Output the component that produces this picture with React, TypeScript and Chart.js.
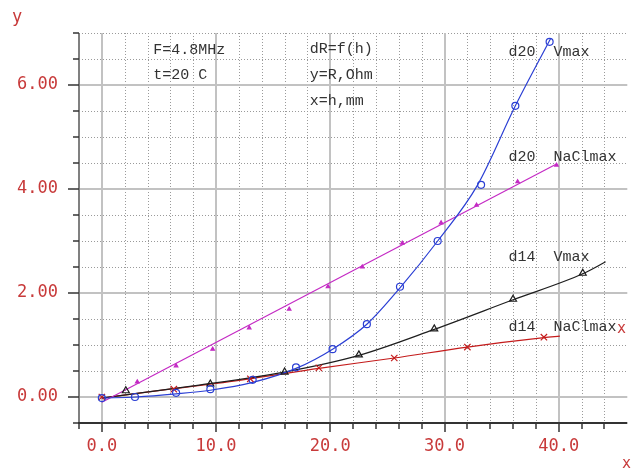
import React, { useEffect, useRef } from 'react';
import { Chart, registerables } from 'chart.js';

Chart.register(...registerables);

// ---- Data (x = h, mm ; y = R, Ohm) ----
const d20VmaxX = [0, 2.9, 6.5, 9.5, 13.2, 17.0, 20.2, 23.2, 26.1, 29.4, 33.2, 36.2, 39.2];
const d20VmaxY = [-0.02, 0.0, 0.08, 0.15, 0.33, 0.57, 0.92, 1.4, 2.12, 3.0, 4.08, 5.6, 6.83];
const d20VmaxFitX = [0, 3, 6.5, 9.5, 13.2, 17.0, 20.2, 23.2, 26.1, 29.4, 32.9, 36.2, 39.3];
const d20VmaxFitY = [-0.02, 0.0, 0.06, 0.13, 0.28, 0.55, 0.92, 1.4, 2.1, 3.0, 4.08, 5.6, 6.9];

const d20NaClX = [3.1, 6.5, 9.7, 12.9, 16.4, 19.8, 22.8, 26.3, 29.7, 32.8, 36.4, 39.8];
const d20NaClY = [0.29, 0.6, 0.92, 1.33, 1.69, 2.12, 2.5, 2.96, 3.35, 3.69, 4.14, 4.46];
const d20NaClFitX = [0, 39.8];
const d20NaClFitY = [-0.1, 4.48];

const d14VmaxX = [2.1, 9.5, 16.0, 22.5, 29.1, 36.0, 42.1];
const d14VmaxY = [0.12, 0.25, 0.48, 0.81, 1.31, 1.88, 2.38];
const d14VmaxFitX = [0, 8.2, 16.0, 22.5, 29.1, 36.0, 42.1, 44.1];
const d14VmaxFitY = [-0.02, 0.22, 0.48, 0.8, 1.3, 1.87, 2.37, 2.6];

const d14NaClX = [0, 6.3, 13.0, 19.0, 25.6, 32.0, 38.7];
const d14NaClY = [0, 0.15, 0.35, 0.56, 0.75, 0.96, 1.15];
const d14NaClFitX = [0, 6.3, 13.0, 19.0, 25.6, 32.0, 38.7, 40.1];
const d14NaClFitY = [-0.02, 0.16, 0.35, 0.55, 0.75, 0.96, 1.14, 1.17];

// ---- Axes ----
const xMin = -2;
const xMax = 46;
const yMin = -0.5;
const yMax = 7;
const xMajorTicks = [0, 10, 20, 30, 40];
const xTickLabels = ['0.0', '10.0', '20.0', '30.0', '40.0'];
const xMinorStep = 2;
const yMajorTicks = [0, 2, 4, 6];
const yTickLabels = ['0.00', '2.00', '4.00', '6.00'];
const yMinorStep = 0.5;

// ---- Annotations (text, data-x, data-y) ----
const noteTexts = ['F=4.8MHz', 't=20 C', 'dR=f(h)', 'y=R,Ohm', 'x=h,mm', 'd20  Vmax', 'd20  NaClmax', 'd14  Vmax', 'd14  NaClmax'];
const noteX = [4.5, 4.5, 18.2, 18.2, 18.2, 35.6, 35.6, 35.6, 35.6];
const noteY = [6.67, 6.2, 6.69, 6.19, 5.69, 6.63, 4.62, 2.69, 1.35];

const BLUE = '#2b3fd4';
const MAGENTA = '#c42ac4';
const BLACK = '#1e1e1e';
const RED = '#c41c1c';
const LABEL_RED = '#c83a3a';

const pts = (xs: number[], ys: number[]) => xs.map((x, i) => ({ x, y: ys[i] }));

const frange = (a: number, b: number, s: number) => {
  const out: number[] = [];
  const n = Math.round((b - a) / s);
  for (let i = 0; i <= n; i++) out.push(+(a + i * s).toFixed(6));
  return out;
};

const gridPlugin = {
  id: 'oldGrid',
  beforeDatasetsDraw(chart: any) {
    const { ctx, chartArea: a, scales } = chart;
    const xs = scales.x;
    const ys = scales.y;
    ctx.save();
    // minor dotted grid
    ctx.lineWidth = 1;
    ctx.strokeStyle = '#9a9a9a';
    ctx.setLineDash([1, 2]);
    for (const v of frange(xMin, xMax, xMinorStep)) {
      if (v === xMin || xMajorTicks.includes(v)) continue;
      const px = Math.round(xs.getPixelForValue(v)) + 0.5;
      if (px > a.right - 1) continue;
      ctx.beginPath();
      ctx.moveTo(px, a.top);
      ctx.lineTo(px, a.bottom);
      ctx.stroke();
    }
    for (const v of frange(yMin, yMax, yMinorStep)) {
      if (v === yMin || yMajorTicks.includes(v)) continue;
      const py = Math.round(ys.getPixelForValue(v)) + 0.5;
      ctx.beginPath();
      ctx.moveTo(a.left, py);
      ctx.lineTo(a.right, py);
      ctx.stroke();
    }
    // major solid grid
    ctx.setLineDash([]);
    ctx.strokeStyle = '#c2c2c2';
    ctx.lineWidth = 2;
    for (const v of xMajorTicks) {
      const px = Math.round(xs.getPixelForValue(v));
      ctx.beginPath();
      ctx.moveTo(px, a.top);
      ctx.lineTo(px, a.bottom);
      ctx.stroke();
    }
    for (const v of yMajorTicks) {
      const py = Math.round(ys.getPixelForValue(v));
      ctx.beginPath();
      ctx.moveTo(a.left, py);
      ctx.lineTo(a.right, py);
      ctx.stroke();
    }
    // axes
    ctx.strokeStyle = '#808080';
    ctx.lineWidth = 2;
    ctx.beginPath();
    ctx.moveTo(a.left, a.top);
    ctx.lineTo(a.left, a.bottom);
    ctx.stroke();
    ctx.strokeStyle = '#333';
    ctx.beginPath();
    ctx.moveTo(a.left - 1, a.bottom);
    ctx.lineTo(a.right, a.bottom);
    ctx.stroke();
    // ticks
    ctx.strokeStyle = '#333';
    ctx.lineWidth = 1.5;
    for (const v of frange(yMin, yMax, yMinorStep)) {
      const py = Math.round(ys.getPixelForValue(v));
      const len = yMajorTicks.includes(v) ? 11 : 6;
      ctx.beginPath();
      ctx.moveTo(a.left - len, py);
      ctx.lineTo(a.left, py);
      ctx.stroke();
    }
    for (const v of frange(xMin, xMax, xMinorStep)) {
      const px = Math.round(xs.getPixelForValue(v));
      if (px > a.right - 1) continue;
      const len = xMajorTicks.includes(v) ? 9 : 6;
      ctx.beginPath();
      ctx.moveTo(px, a.bottom);
      ctx.lineTo(px, a.bottom + len);
      ctx.stroke();
    }
    ctx.restore();
  },
  afterDraw(chart: any) {
    const { ctx, chartArea: a, scales } = chart;
    const xs = scales.x;
    const ys = scales.y;
    ctx.save();
    // tick labels
    ctx.fillStyle = LABEL_RED;
    ctx.font = '17px "DejaVu Sans Mono"';
    ctx.textBaseline = 'middle';
    ctx.textAlign = 'right';
    yMajorTicks.forEach((v, i) => {
      ctx.fillText(yTickLabels[i], a.left - 21, ys.getPixelForValue(v));
    });
    ctx.textAlign = 'center';
    xMajorTicks.forEach((v, i) => {
      ctx.fillText(xTickLabels[i], xs.getPixelForValue(v), a.bottom + 24);
    });
    // axis names
    ctx.textAlign = 'left';
    ctx.fillText('y', 12, 18);
    ctx.font = '15px "DejaVu Sans Mono"';
    ctx.fillText('x', 622, 464);
    ctx.fillText('x', xs.getPixelForValue(45.1), ys.getPixelForValue(1.3));
    // notes
    ctx.fillStyle = '#333';
    ctx.font = '15px "Liberation Mono"';
    ctx.textAlign = 'left';
    noteTexts.forEach((t, i) => {
      ctx.fillText(t, xs.getPixelForValue(noteX[i]), ys.getPixelForValue(noteY[i]));
    });
    ctx.restore();
  },
};

const fitLine = (xs: number[], ys: number[], color: string, mono: boolean) => ({
  data: pts(xs, ys),
  showLine: true,
  borderColor: color,
  borderWidth: 1.2,
  pointRadius: 0,
  fill: false,
  cubicInterpolationMode: mono ? 'monotone' : 'default',
  tension: 0,
});

const markers = (xs: number[], ys: number[], color: string, style: string, r: number, filled: boolean) => ({
  data: pts(xs, ys),
  showLine: false,
  pointStyle: style,
  pointRadius: r,
  pointBorderWidth: 1.2,
  pointBorderColor: color,
  pointBackgroundColor: filled ? color : 'rgba(0,0,0,0)',
});

export default function App() {
  const ref = useRef<HTMLCanvasElement>(null);
  useEffect(() => {
    if (!ref.current) return;
    const chart = new Chart(ref.current, {
      type: 'scatter',
      data: {
        datasets: [
          markers(d20VmaxX, d20VmaxY, BLUE, 'circle', 3.5, false),
          markers(d20NaClX, d20NaClY, MAGENTA, 'triangle', 2, true),
          markers(d14VmaxX, d14VmaxY, BLACK, 'triangle', 4, false),
          markers(d14NaClX, d14NaClY, RED, 'crossRot', 4.5, false),
          fitLine(d20VmaxFitX, d20VmaxFitY, BLUE, true),
          fitLine(d20NaClFitX, d20NaClFitY, MAGENTA, false),
          fitLine(d14VmaxFitX, d14VmaxFitY, BLACK, true),
          fitLine(d14NaClFitX, d14NaClFitY, RED, true),
        ] as any,
      },
      options: {
        animation: false,
        responsive: true,
        maintainAspectRatio: false,
        layout: { padding: { left: 79, top: 33, right: 0, bottom: 48 } },
        plugins: { legend: { display: false }, tooltip: { enabled: false } },
        scales: {
          x: { type: 'linear', min: xMin, max: xMax, display: false },
          y: { type: 'linear', min: yMin, max: yMax, display: false },
        },
      },
      plugins: [gridPlugin],
    });
    return () => chart.destroy();
  }, []);
  return (
    <div style={{ position: 'fixed', left: 0, top: 0, width: 633, height: 471, background: '#fff' }}>
      <canvas ref={ref} />
    </div>
  );
}
